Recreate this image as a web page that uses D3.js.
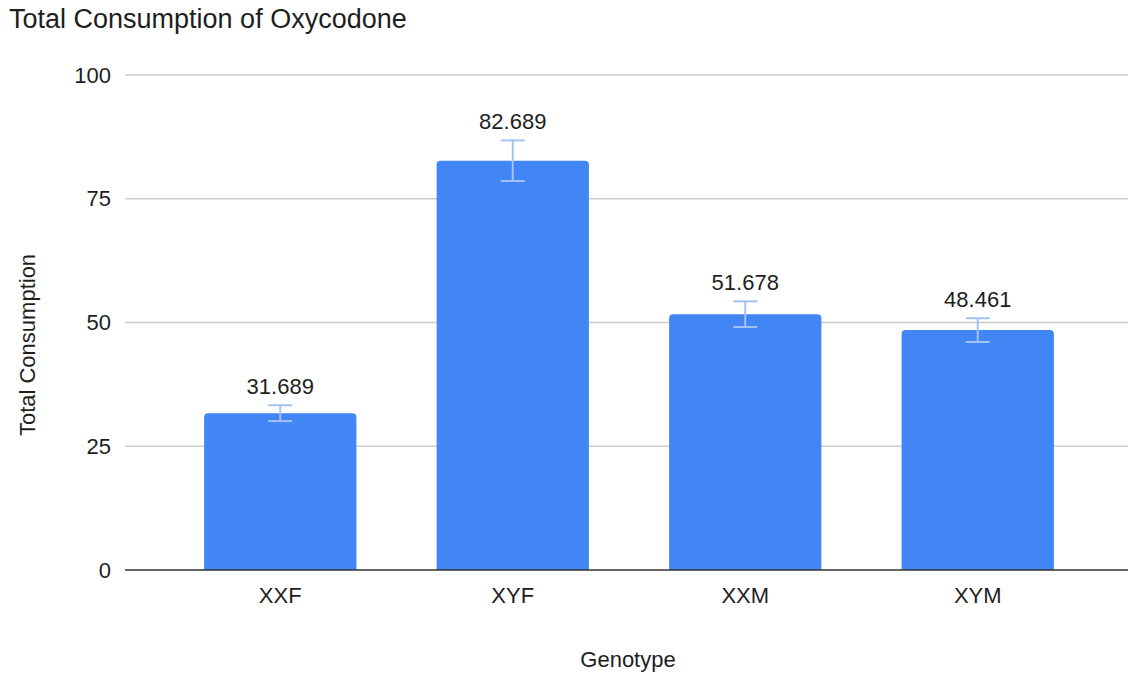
<!DOCTYPE html>
<html>
  <head>
    <meta charset="utf-8">
    <title>Total Consumption of Oxycodone</title>
    <script src="https://d3js.org/d3.v7.min.js"></script>
    <style>
      body { margin: 0; background: #fff; }
      text { font-family: "Liberation Sans", Arial, sans-serif; fill: #1e1e1e; }
      .bar { fill: #4285f4; }
      .err { stroke: #a4c2f4; stroke-width: 2; }
      .grid line { stroke: #cccccc; stroke-width: 1.5; }
      .tick text { font-size: 22px; }
      .label { font-size: 22px; text-anchor: middle; }
    </style>
  </head>
  <body>
    <script>
      // chart data
      var genotypes = ["XXF", "XYF", "XXM", "XYM"];
      var totals = [31.689, 82.689, 51.678, 48.461];
      var errors = [1.6, 4.1, 2.6, 2.4];
      var yTicks = [0, 25, 50, 75, 100];

      var width = 1128, height = 674;

      var svg = d3.select("body").append("svg")
                  .attr("width", width)
                  .attr("height", height);

      var x = d3.scaleBand()
                .domain(genotypes)
                .range([164, 1094])
                .paddingInner(0.345)
                .paddingOuter(0.1725);
      var y = d3.scaleLinear()
                .domain([0, 100])
                .range([570, 75]);

      // gridlines
      svg.append("g")
         .attr("class", "grid")
         .selectAll("line")
         .data(yTicks.filter(function(d) { return d > 0; }))
         .enter().append("line")
         .attr("x1", 125).attr("x2", 1128)
         .attr("y1", function(d) { return y(d); })
         .attr("y2", function(d) { return y(d); });

      // y axis labels
      var yAxis = svg.append("g")
         .attr("transform", "translate(125,0)")
         .call(d3.axisLeft(y).tickValues(yTicks).tickSize(0).tickPadding(14));
      yAxis.select(".domain").remove();

      // bars with rounded top corners
      var r = 4;
      svg.selectAll(".bar")
         .data(totals)
         .enter().append("path")
         .attr("class", "bar")
         .attr("d", function(d, i) {
           var x0 = x(genotypes[i]), x1 = x0 + x.bandwidth();
           var y0 = y(0), y1 = y(d);
           return "M" + x0 + "," + y0 + "V" + (y1 + r) +
                  "Q" + x0 + "," + y1 + " " + (x0 + r) + "," + y1 +
                  "H" + (x1 - r) +
                  "Q" + x1 + "," + y1 + " " + x1 + "," + (y1 + r) +
                  "V" + y0 + "Z";
         });

      // error bars
      var cap = 12;
      var eg = svg.selectAll(".errg")
         .data(totals)
         .enter().append("g")
         .attr("class", "err");
      eg.append("line")
        .attr("x1", function(d, i) { return x(genotypes[i]) + x.bandwidth() / 2; })
        .attr("x2", function(d, i) { return x(genotypes[i]) + x.bandwidth() / 2; })
        .attr("y1", function(d, i) { return y(d + errors[i]); })
        .attr("y2", function(d, i) { return y(d - errors[i]); });
      eg.append("line")
        .attr("x1", function(d, i) { return x(genotypes[i]) + x.bandwidth() / 2 - cap; })
        .attr("x2", function(d, i) { return x(genotypes[i]) + x.bandwidth() / 2 + cap; })
        .attr("y1", function(d, i) { return y(d + errors[i]); })
        .attr("y2", function(d, i) { return y(d + errors[i]); });
      eg.append("line")
        .attr("x1", function(d, i) { return x(genotypes[i]) + x.bandwidth() / 2 - cap; })
        .attr("x2", function(d, i) { return x(genotypes[i]) + x.bandwidth() / 2 + cap; })
        .attr("y1", function(d, i) { return y(d - errors[i]); })
        .attr("y2", function(d, i) { return y(d - errors[i]); });

      // value labels
      svg.selectAll(".label")
         .data(totals)
         .enter().append("text")
         .attr("class", "label")
         .attr("x", function(d, i) { return x(genotypes[i]) + x.bandwidth() / 2; })
         .attr("y", function(d, i) { return y(d + errors[i]) - 11; })
         .text(function(d) { return d3.format(".3f")(d); });

      // zero line
      svg.append("line")
         .attr("x1", 125).attr("x2", 1128)
         .attr("y1", y(0)).attr("y2", y(0))
         .attr("stroke", "#333").attr("stroke-width", 1.5);

      // x axis labels
      var xAxis = svg.append("g")
         .attr("transform", "translate(0," + y(0) + ")")
         .call(d3.axisBottom(x).tickSize(0).tickPadding(17));
      xAxis.select(".domain").remove();

      // titles
      svg.append("text")
         .attr("x", 9).attr("y", 28)
         .style("font-size", "27px")
         .text("Total Consumption of Oxycodone");
      svg.append("text")
         .attr("transform", "translate(35,345) rotate(-90)")
         .attr("text-anchor", "middle")
         .style("font-size", "22px")
         .text("Total Consumption");
      svg.append("text")
         .attr("x", 628).attr("y", 667)
         .attr("text-anchor", "middle")
         .style("font-size", "22px")
         .text("Genotype");
    </script>
  </body>
</html>
